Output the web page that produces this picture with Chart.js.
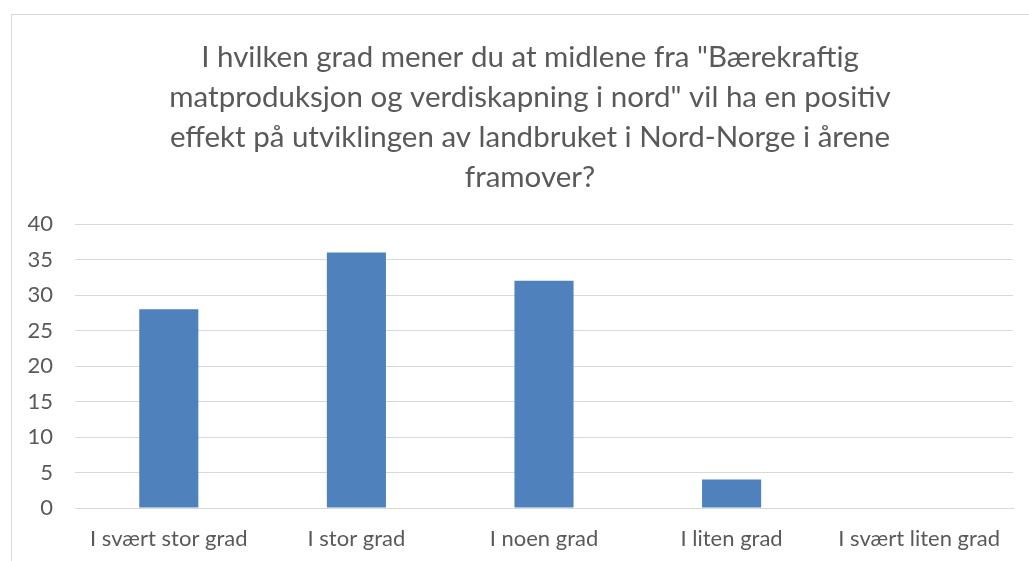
<!DOCTYPE html>
<html>
<head>
<meta charset="utf-8">
<script src="https://cdn.jsdelivr.net/npm/chart.js@4.4.1/dist/chart.umd.min.js"></script>
<style>
  html, body { margin: 0; padding: 0; background: #fff; overflow: hidden; }
  #frame { position: absolute; left: 11px; top: 14px; width: 1100px; height: 600px; border: 1px solid #d9d9d9; }
  #wrap { position: absolute; left: 0; top: 0; width: 1045px; height: 561px; }
</style>
</head>
<body>
<div id="frame"></div>
<div id="wrap"><canvas id="chart"></canvas></div>
<script>
// Chart data
const categories = ['I svært stor grad', 'I stor grad', 'I noen grad', 'I liten grad', 'I svært liten grad'];
const answers = [28, 36, 32, 4, 0];
const titleLines = [
  'I hvilken grad mener du at midlene fra "Bærekraftig',
  'matproduksjon og verdiskapning i nord" vil ha en positiv',
  'effekt på utviklingen av landbruket i Nord-Norge i årene',
  'framover?'
];

const textColor = '#595959';
const gridColor = '#d9d9d9';
const fontFamily = 'Lato';

new Chart(document.getElementById('chart'), {
  type: 'bar',
  data: {
    labels: categories,
    datasets: [{
      data: answers,
      backgroundColor: '#4f81bd',
      borderWidth: 0,
      barPercentage: 1,
      categoryPercentage: 0.315
    }]
  },
  options: {
    responsive: true,
    maintainAspectRatio: false,
    animation: false,
    layout: {
      padding: { left: 15, right: 0, top: 0, bottom: 8 }
    },
    plugins: {
      legend: { display: false },
      tooltip: { enabled: false },
      title: {
        display: true,
        text: titleLines,
        color: textColor,
        font: { family: fontFamily, size: 29.5, weight: 'normal', lineHeight: 1.356 },
        padding: { top: 37, bottom: 27 }
      }
    },
    scales: {
      x: {
        afterFit: function(axis) { axis.height = 45; },
        grid: { display: false, drawTicks: false },
        border: { display: true, color: gridColor, width: 1 },
        ticks: {
          color: textColor,
          font: { family: fontFamily, size: 22 },
          padding: 18,
          maxRotation: 0,
          autoSkip: false
        }
      },
      y: {
        min: 0,
        max: 40,
        afterFit: function(axis) { axis.width = 60; },
        border: { display: false },
        grid: { color: gridColor, drawTicks: false, lineWidth: 1 },
        ticks: {
          stepSize: 5,
          color: textColor,
          font: { family: fontFamily, size: 22 },
          padding: 22
        }
      },
      // empty right-hand axis, only there to keep the title centred like the original
      spacer: {
        type: 'linear',
        position: 'right',
        afterFit: function(axis) { axis.width = 32; },
        grid: { display: false },
        border: { display: false },
        ticks: { display: false }
      }
    }
  }
});
</script>
</body>
</html>
